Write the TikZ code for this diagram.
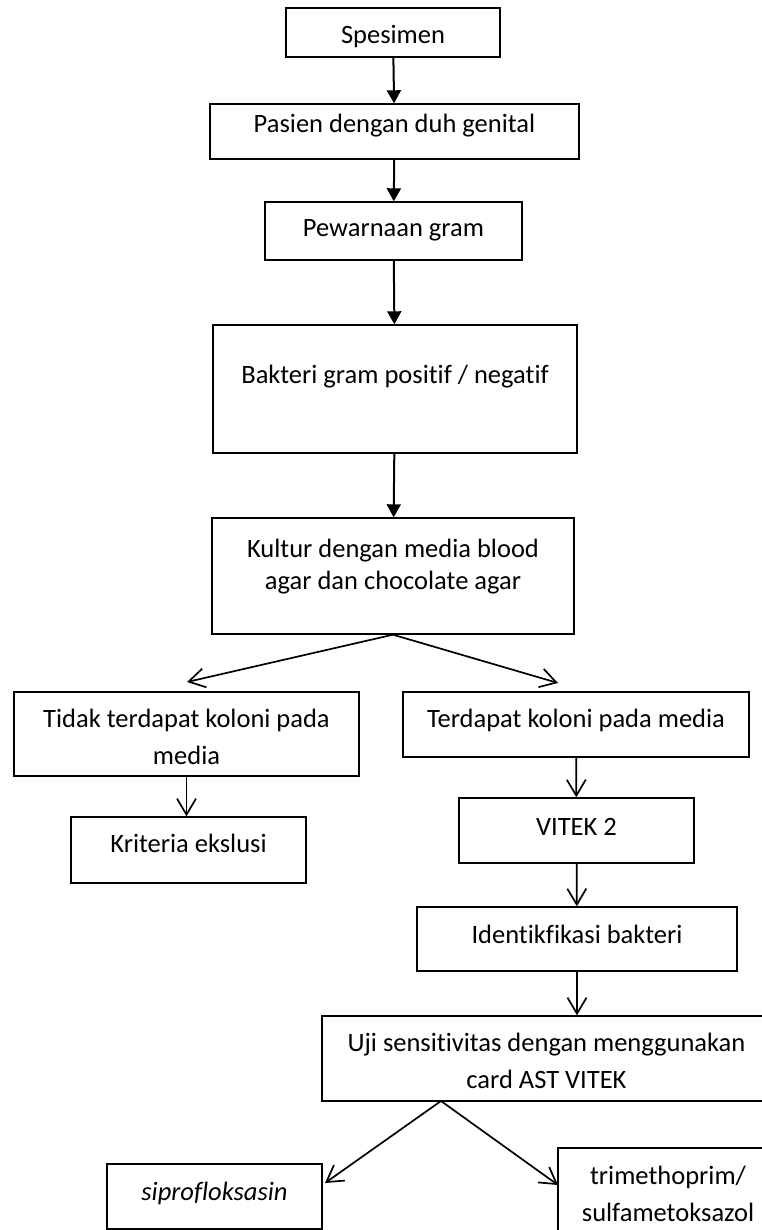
\documentclass[tikz,border=0pt]{standalone}
\usepackage{fontspec}
\setmainfont[Ligatures=NoCommon]{Carlito}
\usetikzlibrary{arrows.meta}
\tikzstyle{kotak} = [draw, line width=1.4pt, rectangle, inner sep=0pt, align=flush center, font=\fontsize{26.5}{37}\selectfont]
\tikzstyle{panahpenuh} = [line width=2pt, -{Triangle[length=13pt,width=14pt]}]
\tikzstyle{panahbuka} = [line width=1.7pt, -{Straight Barb[length=16pt,width=19pt,line width=1.7pt]}]

\begin{document}
\begin{tikzpicture}[x=1pt, y=-1pt]
	\useasboundingbox (0,0) rectangle (762,1230);
	\node[kotak, text width=214pt, text height=36pt, text depth=13pt] (spesimen) at (393,32.5) {Spesimen};
	\node[kotak, text width=369pt, text height=29pt, text depth=26pt] (pasien) at (394.5,131.5) {Pasien dengan duh genital};
	\node[kotak, text width=257pt, text height=35pt, text depth=23pt] (pewarnaan) at (393.5,231) {Pewarnaan gram};
	\node[kotak, text width=364pt, text height=58pt, text depth=70pt] (bakteri) at (395,389) {Bakteri gram positif / negatif};
	\node[kotak, text width=362pt, text height=39pt, text depth=77pt, font=\fontsize{26.5}{32}\selectfont] (kultur) at (393,576) {Kultur dengan media blood\\agar dan chocolate agar};
	\node[kotak, text width=345pt, text height=35pt, text depth=49pt] (tidak) at (186.5,734) {Tidak terdapat koloni pada\\media};
	\node[kotak, text width=346pt, text height=35pt, text depth=30pt] (terdapat) at (576,724.5) {Terdapat koloni pada media};
	\node[kotak, text width=235pt, text height=35pt, text depth=31pt] (kriteria) at (188.5,850) {Kriteria ekslusi};
	\node[kotak, text width=235pt, text height=37pt, text depth=28pt] (vitek) at (576.5,830.5) {VITEK 2};
	\node[kotak, text width=320pt, text height=36pt, text depth=28pt] (identifikasi) at (577,939) {Identikfikasi bakteri};
	\node[kotak, text width=449pt, text height=35pt, text depth=50pt] (uji) at (546.5,1058.5) {Uji sensitivitas dengan menggunakan\\card AST VITEK};
	\node[kotak, text width=215pt, text height=36pt, text depth=29pt] (sipro) at (214.5,1196.5) {\itshape siprofloksasin};
	\node[kotak, text width=220pt, text height=36pt, text depth=56pt] (trimet) at (668,1194) {trimethoprim/\\sulfametoksazol};

	\coordinate (ujungkiri) at (187,682);
	\coordinate (ujungkanan) at (558,683);
	\coordinate (cabanguji) at (441,1101);
	\coordinate (ujungsipro) at (325,1183);
	\coordinate (ujungtrimet) at (558,1185);

	\draw[panahpenuh] (spesimen) -- (pasien);
	\draw[panahpenuh] (pasien) -- (pewarnaan);
	\draw[panahpenuh] (pewarnaan) -- (bakteri);
	\draw[panahpenuh] (bakteri) -- (kultur);
	\draw[panahbuka] (kultur.south) -- (ujungkiri);
	\draw[panahbuka] (kultur.south) -- (ujungkanan);
	\draw[panahbuka] (tidak.south) -- (tidak.south |- kriteria.north);
	\draw[panahbuka] (terdapat) -- (vitek);
	\draw[panahbuka] (vitek) -- (identifikasi);
	\draw[panahbuka] (identifikasi.south) -- (identifikasi.south |- uji.north);
	\draw[panahbuka] (cabanguji) -- (ujungsipro);
	\draw[panahbuka] (cabanguji) -- (ujungtrimet);
\end{tikzpicture}
\end{document}
